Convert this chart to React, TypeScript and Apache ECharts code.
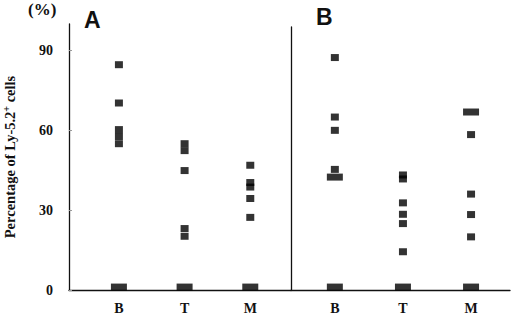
import React, { useEffect, useRef } from "react";
import * as echarts from "echarts";

// Categories and axis ticks
const categories = ["B", "T", "M"];
const yTicks = [0, 30, 60, 90];

// Panel A values (single points) per category
const aB = [84.7, 70.3, 60.3, 57.7, 55.0];
const aT = [55.0, 52.4, 44.9, 23.1, 20.2];
const aM = [46.9, 40.4, 38.7, 34.4, 27.3];
// Panel A values where two mice coincide (drawn as double-width marks)
const aTiesB = [1.1];
const aTiesT = [1.1];
const aTiesM = [1.1];

// Panel B values (single points) per category
const bB = [87.5, 65.1, 60.1, 45.4];
const bT = [43.3, 41.8, 32.8, 28.5, 25.0, 14.4];
const bM = [58.5, 36.1, 28.4, 20.0];
// Panel B coincident values
const bTiesB = [42.5, 1.1];
const bTiesT = [1.1];
const bTiesM = [67.0, 1.1];

const SERIF = "'Liberation Serif', 'DejaVu Serif', serif";
const SANS = "'Liberation Sans', Arial, sans-serif";

function toPoints(lists: number[][]) {
  const out: number[][] = [];
  lists.forEach((vals, i) => vals.forEach((v) => out.push([i, v])));
  return out;
}

export default function App() {
  const ref = useRef<HTMLDivElement>(null);
  useEffect(() => {
    if (!ref.current) return;
    const chart = echarts.init(ref.current, null, { renderer: "svg" });
    const axisLine = { show: true, onZero: false, lineStyle: { color: "#111", width: 1.3 } };
    const xBase = {
      type: "value" as const,
      axisLine,
      splitLine: { show: false },
      axisTick: { show: false },
      axisLabel: {
        show: true,
        customValues: [0, 1, 2],
        formatter: (v: number) => categories[Math.round(v)] ?? "",
        fontFamily: SERIF,
        fontWeight: "bold" as const,
        fontSize: 14,
        color: "#111",
        margin: 11,
      },
    };
    const singleSym = { symbol: "rect", symbolSize: [8, 7] };
    const tieSym = { symbol: "rect", symbolSize: [16, 7] };
    const itemStyle = { color: "#000" };
    chart.setOption({
      animation: false,
      grid: [
        { left: 66, top: 24, width: 225, height: 266.7 },
        { left: 291, top: 27, width: 219, height: 263.7 },
      ],
      xAxis: [
        { ...xBase, gridIndex: 0, min: -0.76, max: 2.62 },
        { ...xBase, gridIndex: 1, min: -0.644, max: 2.572 },
      ],
      yAxis: [
        {
          type: "value",
          gridIndex: 0,
          min: 0,
          max: 100,
          axisLine,
          splitLine: { show: false },
          axisTick: {
            show: true,
            inside: true,
            length: 3,
            customValues: yTicks,
            lineStyle: { color: "#999", width: 1 },
          },
          axisLabel: {
            customValues: yTicks,
            fontFamily: SERIF,
            fontWeight: "bold",
            fontSize: 14,
            color: "#111",
            margin: 16,
          },
          name: "{a|Percentage of Ly-5.2}{s|+}{a| cells}",
          nameLocation: "middle",
          nameRotate: 90,
          nameGap: 50,
          nameTextStyle: {
            rich: {
              a: { fontFamily: SERIF, fontWeight: "bold", fontSize: 14.5, color: "#111" },
              s: {
                fontFamily: SERIF,
                fontWeight: "bold",
                fontSize: 10,
                color: "#111",
                padding: [0, 0, 8, 0],
              },
            },
          },
        },
        {
          type: "value",
          gridIndex: 1,
          min: 0,
          max: 99,
          axisLine,
          splitLine: { show: false },
          axisTick: { show: false },
          axisLabel: { show: false },
        },
      ],
      series: [
        {
          type: "scatter",
          xAxisIndex: 0,
          yAxisIndex: 0,
          ...singleSym,
          itemStyle,
          data: toPoints([aB, aT, aM]),
        },
        {
          type: "scatter",
          xAxisIndex: 0,
          yAxisIndex: 0,
          ...tieSym,
          itemStyle,
          data: toPoints([aTiesB, aTiesT, aTiesM]),
        },
        {
          type: "scatter",
          xAxisIndex: 1,
          yAxisIndex: 1,
          ...singleSym,
          itemStyle,
          data: toPoints([bB, bT, bM]),
        },
        {
          type: "scatter",
          xAxisIndex: 1,
          yAxisIndex: 1,
          ...tieSym,
          itemStyle,
          data: toPoints([bTiesB, bTiesT, bTiesM]),
        },
      ],
      graphic: [
        {
          type: "text",
          left: 28,
          top: 1,
          style: { text: "(%)", font: `bold 17px ${SERIF}`, fill: "#111" },
        },
        {
          type: "text",
          left: 84,
          top: 8,
          style: { text: "A", font: `bold 23px ${SANS}`, fill: "#111" },
        },
        {
          type: "text",
          left: 316,
          top: 5,
          style: { text: "B", font: `bold 23px ${SANS}`, fill: "#111" },
        },
      ],
    });
    return () => chart.dispose();
  }, []);
  return <div ref={ref} style={{ width: 520, height: 315, position: "absolute", left: 0, top: 0 }} />;
}
